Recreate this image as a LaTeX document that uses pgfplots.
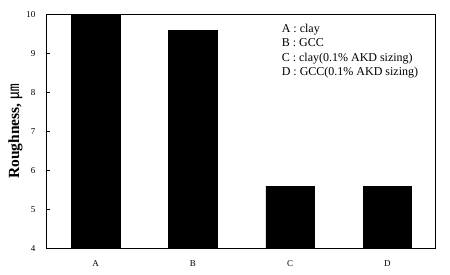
\documentclass[border=0pt]{standalone}
\usepackage{fontspec}
\setmainfont{Liberation Serif}
\newfontfamily\cjk{Noto Sans CJK SC}
\usepackage{pgfplots}
\pgfplotsset{compat=1.18}
\begin{document}
\begin{tikzpicture}
\begin{axis}[
  at={(0,0)}, anchor=south west,
  scale only axis, width=389pt, height=233.6pt,
  xmin=-0.5, xmax=3.5, ymin=4, ymax=10,
  ybar, bar width=0.5,
  xtick={0,1,2,3}, xticklabels={A,B,C,D},
  ytick={4,5,6,7,8,9,10},
  major x tick style={draw=none},
  ytick pos=left, tick align=inside, major tick length=3pt,
  axis line style={line width=1pt},
  tick style={line width=0.8pt, black},
  ticklabel style={font=\fontsize{9}{10}\selectfont},
  /pgf/number format/assume math mode=true,
  yticklabel style={xshift=-8pt},
  xticklabel style={yshift=-9pt},
  ylabel={\textbf{Roughness, }{\cjk ㎛}},
  ylabel style={font=\fontsize{15.5}{17}\selectfont, yshift=-3pt},
  clip=false,
]
\addplot[fill=black, draw=black] coordinates {(0,10) (1,9.6) (2,5.6) (3,5.6)};
\node[anchor=north west, align=left, font=\fontsize{12}{14.5}\selectfont, inner sep=0pt]
  at (rel axis cs:0.603,0.961) {A : clay\\B : GCC\\C : clay(0.1\% AKD sizing)\\D : GCC(0.1\% AKD sizing)};
\end{axis}
\path[use as bounding box] (-47pt,-26.7pt) rectangle (403pt,248.3pt);
\end{tikzpicture}
\end{document}
